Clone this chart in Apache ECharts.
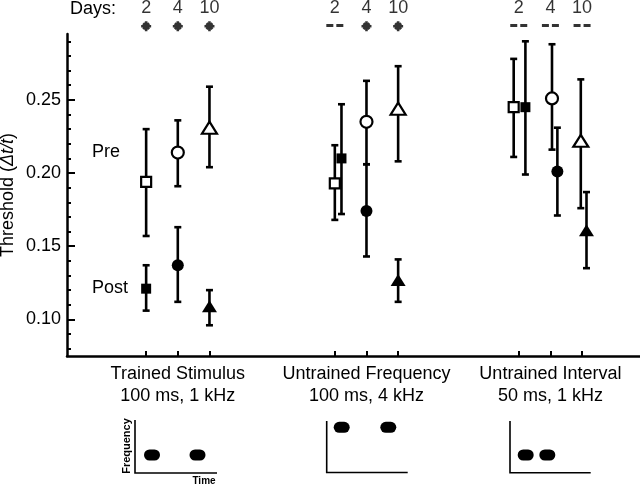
<!DOCTYPE html>
<html>
<head>
<meta charset="utf-8">
<script src="https://cdn.jsdelivr.net/npm/echarts@6/dist/echarts.min.js"></script>
<style>html,body{margin:0;padding:0;background:#fff}#c{width:640px;height:486px}</style>
</head>
<body>
<div id="c"></div>
<script>
// ---- data ----
const groupNames = ['Trained Stimulus\n100 ms, 1 kHz', 'Untrained Frequency\n100 ms, 4 kHz', 'Untrained Interval\n50 ms, 1 kHz'];
const groupCenters = [3.5, 9.46, 15.27];
const days = ['2', '4', '10'];
const dayOffsets = [-1, 0, 1];
const daySymbols = ['rect', 'circle', 'triangle'];
// order: group1 d2,d4,d10, group2 d2,d4,d10, group3 d2,d4,d10
const preMean  = [0.194, 0.214, 0.231, 0.193, 0.235, 0.244, 0.245, 0.251, 0.222];
const preLow   = [0.157, 0.191, 0.204, 0.168, 0.206, 0.208, 0.211, 0.216, 0.176];
const preHigh  = [0.230, 0.236, 0.259, 0.219, 0.263, 0.273, 0.278, 0.288, 0.264];
const postMean = [0.121, 0.137, 0.109, 0.210, 0.174, 0.127, 0.245, 0.201, 0.161];
const postLow  = [0.106, 0.112, 0.096, 0.172, 0.143, 0.112, 0.199, 0.171, 0.135];
const postHigh = [0.137, 0.163, 0.120, 0.247, 0.206, 0.141, 0.290, 0.231, 0.187];
const preShift  = [0, 0, 0, 0, 0, 0, -0.16, 0.05, -0.04];
const postShift = [0, 0, 0, 0.21, 0, 0, 0.21, 0.22, 0.14];
const significant = [true, true, true, false, true, true, false, false, false];
const yTickLabels = [0.10, 0.15, 0.20, 0.25];
const yMinorTicks = [0.08, 0.09, 0.10, 0.11, 0.12, 0.13, 0.14, 0.15, 0.16, 0.17, 0.18, 0.19, 0.20, 0.21, 0.22, 0.23, 0.24, 0.25, 0.26, 0.27, 0.28, 0.29];

// ---- build ----
const FONT = "'Liberation Sans', Arial, sans-serif";
const slotX = [];
groupCenters.forEach(c => dayOffsets.forEach(o => slotX.push(c + o)));

const preErr = [], postErr = [], prePts = [], postPts = [], dayLab = [], sigPts = [], nsPts = [];
for (let i = 0; i < 9; i++) {
  const d = i % 3;
  preErr.push([slotX[i] + preShift[i], preLow[i], preHigh[i]]);
  postErr.push([slotX[i] + postShift[i], postLow[i], postHigh[i]]);
  const sz = d === 0 ? 10 : d === 1 ? 12 : [15, 12];
  prePts.push({ value: [slotX[i] + preShift[i], preMean[i]], symbol: daySymbols[d], symbolSize: sz });
  postPts.push({ value: [slotX[i] + postShift[i], postMean[i]], symbol: daySymbols[d], symbolSize: sz });
  dayLab.push({ value: [slotX[i], 0.76], name: days[d] });
  if (significant[i]) sigPts.push([slotX[i], 0.23]); else nsPts.push([slotX[i], 0.25]);
}

function groupLabel(v) {
  let best = 0;
  groupCenters.forEach((c, k) => { if (Math.abs(c - v) < Math.abs(groupCenters[best] - v)) best = k; });
  return groupNames[best];
}

function errRender(params, api) {
  const x = api.value(0), lo = api.value(1), hi = api.value(2);
  const p1 = api.coord([x, hi]), p2 = api.coord([x, lo]);
  const cw = 7, st = { stroke: '#000', lineWidth: 2.6 };
  return { type: 'group', children: [
    { type: 'line', shape: { x1: p1[0], y1: p1[1], x2: p2[0], y2: p2[1] }, style: st },
    { type: 'line', shape: { x1: p1[0] - cw / 2, y1: p1[1], x2: p1[0] + cw / 2, y2: p1[1] }, style: st },
    { type: 'line', shape: { x1: p2[0] - cw / 2, y1: p2[1], x2: p2[0] + cw / 2, y2: p2[1] }, style: st }
  ]};
}

const asteriskPath = 'path://M3.7,0H6.3V10H3.7Z M0,3.7H10V6.3H0Z M1.1,3L3,1.1L8.9,7L7,8.9Z M7,1.1L8.9,3L3,8.9L1.1,7Z';
const dashPath = 'path://M0,0H7V3H0Z M10,0H17V3H10Z';

function pill(cx, cy) {
  return { type: 'rect', shape: { x: cx - 8, y: cy - 5.5, width: 16, height: 11, r: 5.5 }, style: { fill: '#000' } };
}
function iconAxes(x, yTop, yBot, xRight) {
  return { type: 'polyline', shape: { points: [[x, yTop], [x, yBot], [xRight, yBot]] }, style: { stroke: '#000', lineWidth: 1.6, fill: null } };
}

const chart = echarts.init(document.getElementById('c'), null, { renderer: 'canvas' });
chart.setOption({
  animation: false,
  backgroundColor: '#fff',
  textStyle: { fontFamily: FONT, color: '#000' },
  grid: [
    { left: 67, right: 0, top: 34, bottom: 130, containLabel: false, outerBoundsMode: 'none' },
    { left: 67, right: 0, top: 0, height: 34, containLabel: false, outerBoundsMode: 'none' }
  ],
  xAxis: [
    { type: 'value', gridIndex: 0, min: 0, max: 18.1,
      axisLine: { onZero: false, lineStyle: { color: '#000', width: 2.5 } },
      axisTick: { inside: true, length: 5, lineStyle: { color: '#000', width: 2 }, customValues: slotX },
      axisLabel: { show: true, customValues: groupCenters, formatter: v => groupLabel(v), fontSize: 18, color: '#000', lineHeight: 22, margin: 7, fontFamily: FONT, hideOverlap: false, showMinLabel: true, showMaxLabel: true },
      splitLine: { show: false } },
    { type: 'value', gridIndex: 1, min: 0, max: 18.1, show: false }
  ],
  yAxis: [
    { type: 'value', gridIndex: 0, min: 0.075, max: 0.295,
      name: '{a|Threshold (}{b|Δt/t}{a|)}', nameLocation: 'middle', nameGap: 50, nameMoveOverlap: false,
      nameTextStyle: { rich: { a: { fontSize: 18, fontFamily: FONT, color: '#000' }, b: { fontSize: 18, fontFamily: FONT, fontStyle: 'italic', color: '#000' } } },
      axisLine: { show: true, onZero: false, lineStyle: { color: '#000', width: 2.5 } },
      axisTick: { inside: true, length: 8, lineStyle: { color: '#000', width: 2 }, customValues: yTickLabels },
      axisLabel: { customValues: yTickLabels, formatter: v => v.toFixed(2), fontSize: 18, color: '#000', margin: 6, fontFamily: FONT },
      splitLine: { show: false } },
    { type: 'value', gridIndex: 0, min: 0.075, max: 0.295, position: 'left',
      axisLine: { show: false },
      axisTick: { inside: true, length: 4, lineStyle: { color: '#000', width: 2 }, customValues: yMinorTicks },
      axisLabel: { show: false }, splitLine: { show: false } },
    { type: 'value', gridIndex: 1, min: 0, max: 1, show: false }
  ],
  series: [
    { type: 'custom', xAxisIndex: 0, yAxisIndex: 0, renderItem: errRender, data: preErr, encode: { x: 0, y: [1, 2] }, z: 2 },
    { type: 'custom', xAxisIndex: 0, yAxisIndex: 0, renderItem: errRender, data: postErr, encode: { x: 0, y: [1, 2] }, z: 2 },
    { type: 'scatter', xAxisIndex: 0, yAxisIndex: 0, data: prePts, z: 3,
      itemStyle: { color: '#fff', borderColor: '#000', borderWidth: 2.2, opacity: 1 } },
    { type: 'scatter', xAxisIndex: 0, yAxisIndex: 0, data: postPts, z: 3,
      itemStyle: { color: '#000', borderColor: '#000', borderWidth: 0, opacity: 1 } },
    { type: 'scatter', xAxisIndex: 1, yAxisIndex: 2, data: dayLab, symbolSize: 10,
      itemStyle: { color: 'rgba(0,0,0,0)' },
      label: { show: true, position: 'inside', formatter: p => p.name, fontSize: 18, color: '#000', fontFamily: FONT } },
    { type: 'scatter', xAxisIndex: 1, yAxisIndex: 2, data: sigPts, symbol: asteriskPath, symbolSize: 10,
      itemStyle: { color: '#000' } },
    { type: 'scatter', xAxisIndex: 1, yAxisIndex: 2, data: nsPts, symbol: dashPath, symbolSize: [17, 3],
      itemStyle: { color: '#000' } }
  ],
  graphic: [
    { type: 'text', left: 70, top: 0, style: { text: 'Days:', font: '18px ' + FONT, fill: '#000' } },
    { type: 'text', left: 92, top: 143, style: { text: 'Pre', font: '18px ' + FONT, fill: '#000' } },
    { type: 'text', left: 92, top: 279, style: { text: 'Post', font: '18px ' + FONT, fill: '#000' } },
    // stimulus schematics
    iconAxes(135, 420, 473, 217), pill(152, 455), pill(197.5, 455),
    { type: 'text', x: 126.5, y: 446, rotation: Math.PI / 2, style: { text: 'Frequency', font: 'bold 11px ' + FONT, fill: '#000', align: 'center', verticalAlign: 'middle' } },
    { type: 'text', x: 204, y: 481, style: { text: 'Time', font: 'bold 10px ' + FONT, fill: '#000', align: 'center', verticalAlign: 'middle' } },
    iconAxes(326.7, 421, 472.5, 407.7), pill(341.7, 427.3), pill(388.3, 427.3),
    iconAxes(510, 421, 472.7, 590.7), pill(525.7, 455), pill(547.3, 455)
  ]
});
</script>
</body>
</html>
